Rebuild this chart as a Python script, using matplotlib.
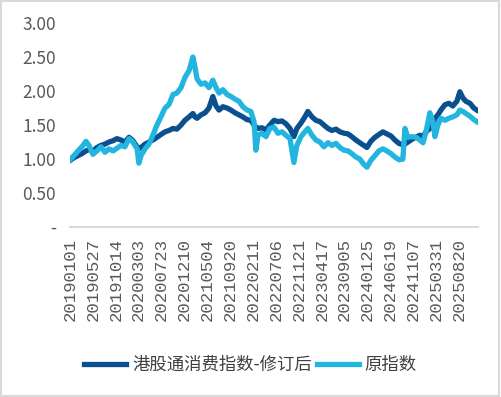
import matplotlib
matplotlib.use("Agg")
import matplotlib.pyplot as plt
from matplotlib.patches import Rectangle

# trading-day index of each sampled point
days = [0, 17, 35, 52, 70, 83, 100, 118, 135, 153, 170, 188, 205, 223, 240, 258, 275, 293, 301, 310,
        328, 345, 362, 380, 397, 415, 432, 450, 467, 485, 502, 520, 537, 546, 555, 572, 590, 607, 624, 638,
        651, 668, 686, 703, 721, 738, 755, 773, 790, 804, 812, 821, 838, 856, 873, 891, 908, 926, 943, 961,
        978, 991, 1009, 1026, 1039, 1057, 1074, 1092, 1109, 1127, 1144, 1162, 1179, 1197, 1214, 1231, 1249, 1266, 1284, 1297,
        1314, 1332, 1349, 1367, 1384, 1402, 1419, 1437, 1454, 1463, 1476, 1494, 1511, 1528, 1542, 1555, 1572, 1585, 1594, 1607,
        1620, 1638, 1655, 1672, 1690, 1703, 1716, 1729, 1747, 1764, 1777]

# 港股通消费指数-修订后
revised = [0.98, 1.02, 1.05, 1.08, 1.12, 1.14, 1.12, 1.17, 1.20, 1.22, 1.25, 1.27, 1.30, 1.28, 1.25, 1.32, 1.27, 1.18, 1.15, 1.17,
           1.22, 1.25, 1.28, 1.32, 1.36, 1.40, 1.42, 1.45, 1.44, 1.50, 1.57, 1.62, 1.67, 1.62, 1.60, 1.65, 1.68, 1.75, 1.92, 1.78,
           1.72, 1.77, 1.75, 1.72, 1.68, 1.65, 1.62, 1.58, 1.57, 1.50, 1.47, 1.45, 1.46, 1.43, 1.50, 1.57, 1.55, 1.56, 1.52, 1.45,
           1.33, 1.45, 1.53, 1.62, 1.70, 1.62, 1.57, 1.55, 1.50, 1.45, 1.42, 1.44, 1.40, 1.38, 1.37, 1.33, 1.28, 1.24, 1.20, 1.17,
           1.26, 1.32, 1.36, 1.40, 1.37, 1.34, 1.28, 1.23, 1.21, 1.22, 1.25, 1.29, 1.32, 1.35, 1.33, 1.40, 1.45, 1.52, 1.60, 1.65,
           1.72, 1.80, 1.82, 1.78, 1.85, 1.99, 1.90, 1.85, 1.82, 1.75, 1.72]

# 原指数
original = [0.99, 1.05, 1.12, 1.18, 1.26, 1.20, 1.07, 1.12, 1.18, 1.10, 1.15, 1.12, 1.16, 1.20, 1.18, 1.30, 1.25, 1.15, 0.94, 1.05,
            1.15, 1.22, 1.35, 1.50, 1.62, 1.75, 1.80, 1.95, 1.97, 2.05, 2.20, 2.30, 2.50, 2.35, 2.18, 2.10, 2.12, 2.05, 2.16, 2.05,
            1.97, 2.02, 1.95, 1.92, 1.88, 1.85, 1.77, 1.72, 1.70, 1.55, 1.13, 1.35, 1.38, 1.33, 1.45, 1.47, 1.38, 1.40, 1.35, 1.30,
            0.95, 1.20, 1.33, 1.40, 1.45, 1.35, 1.28, 1.25, 1.18, 1.24, 1.20, 1.23, 1.17, 1.13, 1.12, 1.08, 1.03, 1.00, 0.92, 0.88,
            0.98, 1.05, 1.12, 1.15, 1.12, 1.08, 1.03, 0.99, 1.00, 1.45, 1.32, 1.33, 1.32, 1.28, 1.24, 1.40, 1.68, 1.55, 1.33, 1.50,
            1.60, 1.57, 1.60, 1.62, 1.65, 1.72, 1.70, 1.67, 1.63, 1.58, 1.55]

tick_days = [0, 100, 200, 300, 400, 500, 600, 700, 800, 900, 1000, 1100, 1200, 1300, 1400, 1500, 1600, 1700]
tick_labels = ["20190101", "20190527", "20191014", "20200303", "20200723", "20201210",
               "20210504", "20210920", "20220211", "20220706", "20221121", "20230417",
               "20230905", "20240125", "20240619", "20241107", "20250331", "20250820"]

y_ticks = [0, 0.5, 1.0, 1.5, 2.0, 2.5, 3.0]
y_labels = ["-", "0.50", "1.00", "1.50", "2.00", "2.50", "3.00"]

series_names = ["港股通消费指数-修订后", "原指数"]

DARK = "#0a4f8e"
LIGHT = "#22b5e0"
TXT = "#595959"

fig = plt.figure(figsize=(5.01, 3.97), dpi=100)
fig.patch.set_facecolor("white")
fig.patches.append(Rectangle((0.002, 0.003), 0.995, 0.994, transform=fig.transFigure,
                             fill=False, edgecolor="#d9d9d9", linewidth=1.5))

ax = fig.add_axes([0.1397, 0.428, 0.8143, 0.514])
ax.plot(days, revised, color=DARK, lw=3.8, solid_joinstyle="round", label=series_names[0])
ax.plot(days, original, color=LIGHT, lw=3.8, solid_joinstyle="round", label=series_names[1])

ax.set_ylim(0, 3.0)
ax.set_xlim(0, 1782)
ax.set_yticks(y_ticks)
ax.set_yticklabels(y_labels, fontfamily=["Noto Sans CJK SC", "DejaVu Sans"], fontsize=12.5, color=TXT)
ax.set_xticks(tick_days)
ax.set_xticklabels(tick_labels, rotation=90, fontfamily=["Liberation Mono", "DejaVu Sans Mono"],
                   fontsize=12.5, color=TXT)
ax.tick_params(axis="both", length=0)
ax.tick_params(axis="y", pad=10)
ax.tick_params(axis="x", pad=8)
for s in ["top", "right", "left"]:
    ax.spines[s].set_visible(False)
ax.spines["bottom"].set_color("#d9d9d9")
ax.spines["bottom"].set_linewidth(1.5)

leg = fig.legend(loc="center", bbox_to_anchor=(0.5, 1 - 365 / 397), ncol=2, frameon=False,
                 prop={"family": ["Noto Sans CJK SC", "DejaVu Sans"], "size": 12.5},
                 handlelength=2.4, handletextpad=0.35, columnspacing=0.3)
for t in leg.get_texts():
    t.set_color("#404040")

fig.savefig("out.png", dpi=100)
